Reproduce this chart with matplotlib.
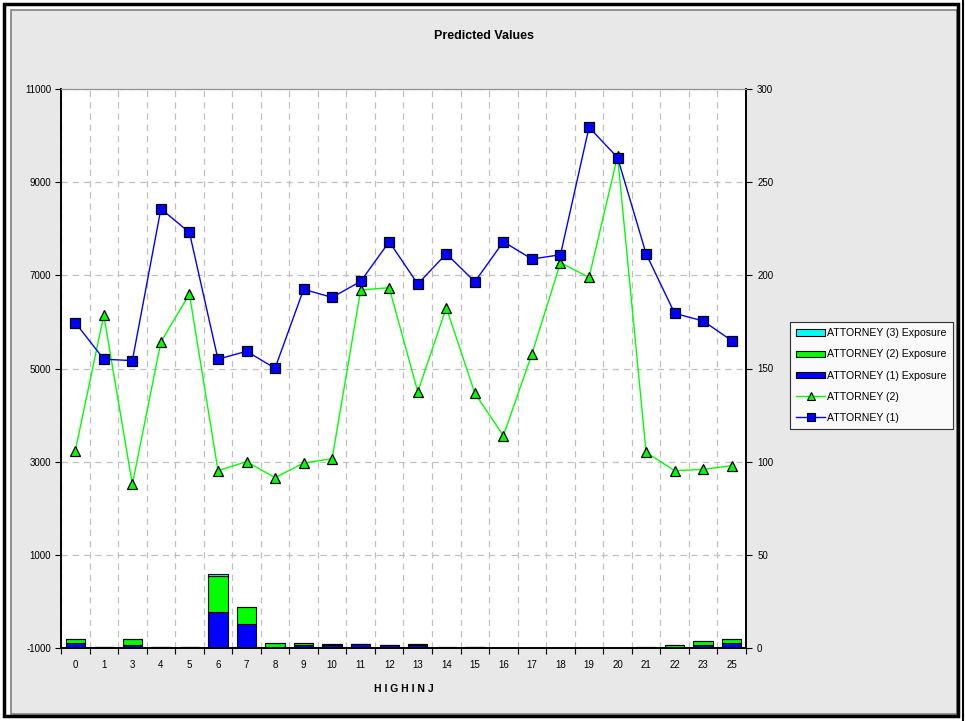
import matplotlib
matplotlib.use("Agg")
import matplotlib.pyplot as plt
from matplotlib.patches import Rectangle, Patch
from matplotlib.lines import Line2D
import numpy as np

plt.rcParams['font.family'] = ['Liberation Sans', 'DejaVu Sans']

categories = ['0', '1', '3', '4', '5', '6', '7', '8', '9', '10', '11', '12',
              '13', '14', '15', '16', '17', '18', '19', '20', '21', '22', '23', '25']
attorney1 = [5985, 5199, 5170, 8428, 7920, 5199, 5370, 5006, 6699, 6527, 6870, 7721,
             6814, 7463, 6863, 7721, 7350, 7442, 10178, 9528, 7463, 6184, 6020, 5599]
attorney2 = [3235, 6142, 2513, 5571, 6600, 2807, 3000, 2657, 2970, 3064, 6685, 6735,
             4500, 6306, 4470, 3557, 5314, 7271, 6956, 9557, 3199, 2807, 2835, 2914]
exposure1 = [2.9, 0.3, 1.4, 0.3, 0.3, 19.3, 12.9, 0.5, 1.6, 1.6, 2.3, 1.6,
             1.6, 0.0, 0.7, 0.0, 0.0, 0.0, 0.0, 0.0, 0.0, 0.0, 1.4, 2.7]
exposure2 = [1.9, 0.0, 3.4, 0.0, 0.0, 19.3, 8.9, 2.2, 1.3, 0.5, 0.0, 0.0,
             0.7, 0.7, 0.0, 0.0, 0.0, 0.0, 0.0, 0.0, 0.5, 1.6, 2.35, 2.3]
exposure3 = [0.0, 0.0, 0.0, 0.0, 0.0, 1.1, 0.0, 0.0, 0.0, 0.0, 0.0, 0.0,
             0.0, 0.0, 0.0, 0.0, 0.0, 0.0, 0.0, 0.0, 0.0, 0.0, 0.0, 0.0]
left_ticks = [-1000, 1000, 3000, 5000, 7000, 9000, 11000]
right_ticks = [0, 50, 100, 150, 200, 250, 300]

W, H = 966, 721
fig = plt.figure(figsize=(W / 100, H / 100), dpi=100)
fig.patch.set_facecolor('white')

def px(x, y):
    return x / W, 1 - y / H

fig.patches.append(Rectangle(px(11, 714), (957 - 11) / W, (714 - 10) / H,
                             transform=fig.transFigure, facecolor='#e8e8e8',
                             edgecolor='#808080', linewidth=1.2, zorder=-10))
fig.patches.append(Rectangle(px(4, 715.5), (958 - 4) / W, (715.5 - 4) / H,
                             transform=fig.transFigure, facecolor='none',
                             edgecolor='black', linewidth=2.5, zorder=-5))
fig.add_artist(Line2D([963 / W, 963 / W], [0, 1], transform=fig.transFigure,
                      color='black', linewidth=1.5))

left, right, top, bottom = 61, 746, 89, 648
rect = [left / W, 1 - bottom / H, (right - left) / W, (bottom - top) / H]
axb = fig.add_axes(rect)
axl = axb.twinx()

x = np.arange(len(categories))
bw = 0.68
edge = dict(edgecolor='black', linewidth=0.8)
axb.bar(x, exposure1, bw, color='#0000ff', **edge)
b2 = np.array(exposure1)
axb.bar(x, exposure2, bw, bottom=b2, color='#00ff00', **edge)
b3 = b2 + np.array(exposure2)
axb.bar(x, exposure3, bw, bottom=b3, color='#00ffff', **edge)

axl.plot(x, attorney2, color='#00ff00', linewidth=1, marker='^', markersize=7.5,
         markerfacecolor='#00ff00', markeredgecolor='black', markeredgewidth=0.9,
         zorder=3)
axl.plot(x, attorney1, color='#0000ff', linewidth=1, marker='s', markersize=6.5,
         markerfacecolor='#0000ff', markeredgecolor='black', markeredgewidth=0.9,
         zorder=4)

axb.set_xlim(-0.5, len(categories) - 0.5)
axb.set_ylim(0, 300)
axl.set_ylim(-1000, 11000)

axb.yaxis.tick_right()
axl.yaxis.tick_left()
axb.set_yticks(right_ticks)
axb.set_yticklabels([str(v) for v in right_ticks], fontsize=7)
axl.set_yticks(left_ticks)
axl.set_yticklabels([str(v) for v in left_ticks], fontsize=7)

axb.set_xticks(x)
axb.set_xticklabels(categories, fontsize=7)
axb.set_xticks(np.arange(len(categories) + 1) - 0.5, minor=True)
axb.tick_params(axis='x', which='major', length=0, pad=9)
axb.tick_params(axis='x', which='minor', length=4, width=0.8, color='black')
axb.tick_params(axis='y', length=4, width=0.8, color='black', pad=4)
axl.tick_params(axis='y', length=4, width=0.8, color='black', pad=3)

axb.grid(True, axis='y', which='major', color='#c0c0c0', linestyle=(0, (5, 4)), linewidth=0.9)
axb.grid(True, axis='x', which='minor', color='#c0c0c0', linestyle=(0, (5, 4)), linewidth=0.9)
axb.set_axisbelow(True)
axb.set_facecolor('white')
axl.patch.set_visible(False)

for a in (axb, axl):
    a.spines['top'].set_color('#909090')
    a.spines['left'].set_color('black')
    a.spines['left'].set_linewidth(1.2)
    a.spines['right'].set_color('black')
    a.spines['right'].set_linewidth(1.2)
    a.spines['bottom'].set_color('black')
    a.spines['bottom'].set_linewidth(1.2)

axb.set_xlabel('H I G H I N J', fontsize=7.5, fontweight='bold', labelpad=10)

fig.text(484 / W, 1 - 36 / H, 'Predicted Values', ha='center', va='center',
         fontsize=9, fontweight='bold')

handles = [
    Patch(facecolor='#00ffff', edgecolor='black', linewidth=0.8),
    Patch(facecolor='#00ff00', edgecolor='black', linewidth=0.8),
    Patch(facecolor='#0000ff', edgecolor='black', linewidth=0.8),
    Line2D([], [], color='#00ff00', linewidth=1, marker='^', markersize=6,
           markerfacecolor='#00ff00', markeredgecolor='black', markeredgewidth=0.8),
    Line2D([], [], color='#0000ff', linewidth=1, marker='s', markersize=5.5,
           markerfacecolor='#0000ff', markeredgecolor='black', markeredgewidth=0.8),
]
labels = ['ATTORNEY (3) Exposure', 'ATTORNEY (2) Exposure', 'ATTORNEY (1) Exposure',
          'ATTORNEY (2)', 'ATTORNEY (1)']
leg = fig.legend(handles, labels, loc='upper left',
                 bbox_to_anchor=(790 / W, 1 - 322 / H), fontsize=7.6,
                 frameon=True, fancybox=False, edgecolor='black',
                 handlelength=2.7, handleheight=0.55, handletextpad=0.25,
                 labelspacing=1.05, borderpad=0.6, borderaxespad=0)
leg.get_frame().set_linewidth(0.8)

fig.savefig('out.png', dpi=100, facecolor=fig.get_facecolor())
